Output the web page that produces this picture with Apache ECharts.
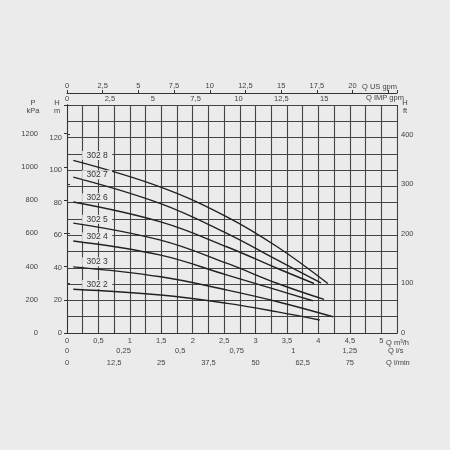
<!DOCTYPE html>
<html><head><meta charset="utf-8">
<script src="https://cdn.jsdelivr.net/npm/echarts@6/dist/echarts.min.js"></script>
<style>html,body{margin:0;background:#ebebeb}#c{width:450px;height:450px}</style>
</head><body><div id="c"></div>
<script>
const models = ['302 8','302 7','302 6','302 5','302 4','302 3','302 2'];
const flowQ = [
 [0.1,1.49,2.55,3.35,4.15],
 [0.1,1.49,2.55,3.35,4.04],
 [0.1,1.49,2.55,3.35,3.93],
 [0.1,1.49,2.55,3.35,4.09],
 [0.1,1.49,2.55,3.35,3.91],
 [0.1,1.49,2.55,3.35,4.23],
 [0.1,1.49,2.55,3.35,4.02]
];
const headH = [
 [106,89.6,71.2,52.8,30.4],
 [95.7,79.4,61,44.7,30.8],
 [80.4,68.2,52.8,39.6,30.4],
 [67.5,57,42.7,30.4,20.6],
 [56.5,47.8,35.5,26.3,19.8],
 [40.6,34.5,26.3,19.2,10],
 [26.9,23.3,18.2,13,8]
];
const labelH = [109,97.2,83,69.8,59,43.7,29.8];
const labelQ = 0.48;
const axisTitles = ['Q US gpm','Q IMP gpm','Q m³/h','Q l/s','Q l/min','P\nkPa','H\nm','H\nft'];

const QMAX = 5.25, HMAX = 140;
const txt = {color:'#444', fontSize:7.5, fontFamily:'Liberation Sans'};
const lim = (max) => v => v > max + 1e-9 ? '' : String(+v.toFixed(3)).replace('.', ',');
const gt = (t,x,y,align) => ({type:'text',left:undefined,x,y,style:{text:t,fill:'#444',font:'7.5px Liberation Sans',align:align||'left',verticalAlign:'middle',lineHeight:8}});

const chart = echarts.init(document.getElementById('c'));
chart.setOption({
  backgroundColor:'#ebebeb',
  animation:false,
  grid:{left:67,right:53,top:105,bottom:117},
  graphic:[
    gt(axisTitles[0],362,87), gt(axisTitles[1],366,98), gt(axisTitles[2],386,343),
    gt(axisTitles[3],388,351), gt(axisTitles[4],386,363),
    gt(axisTitles[5],33,107,'center'), gt(axisTitles[6],57,107,'center'), gt(axisTitles[7],405,107,'center')
  ],
  xAxis:[
    {type:'value',position:'bottom',min:0,max:QMAX,interval:0.25,
     axisLine:{lineStyle:{color:'#333'}},axisTick:{show:false},
     splitLine:{lineStyle:{color:'#444',width:1.1}},
     axisLabel:{...txt,margin:4,formatter:v=>(Math.abs(v*2-Math.round(v*2))<1e-6 && v<=5)?String(v).replace('.',','):''}},
    {type:'value',position:'bottom',offset:12,min:0,max:QMAX/3.6,interval:0.25,
     axisLine:{show:false},axisTick:{show:false},splitLine:{show:false},
     axisLabel:{...txt,margin:2,formatter:lim(1.25)}},
    {type:'value',position:'bottom',offset:23,min:0,max:QMAX*1000/60,interval:12.5,
     axisLine:{show:true,lineStyle:{color:'#333'}},axisTick:{show:true,inside:true,length:3},splitLine:{show:false},
     axisLabel:{...txt,margin:3,formatter:lim(75)}},
    {type:'value',position:'top',offset:12,min:0,max:QMAX*4.4029,interval:2.5,
     axisLine:{show:true,lineStyle:{color:'#333'}},axisTick:{show:true,length:3},splitLine:{show:false},
     axisLabel:{...txt,margin:3,formatter:lim(20)}},
    {type:'value',position:'top',offset:0,min:0,max:QMAX*3.6662,interval:2.5,
     axisLine:{show:false},axisTick:{show:false},splitLine:{show:false},
     axisLabel:{...txt,margin:2,formatter:lim(15)}}
  ],
  yAxis:[
    {type:'value',position:'left',min:0,max:HMAX,interval:10,
     axisLine:{show:true,lineStyle:{color:'#333'}},axisTick:{show:false},
     splitLine:{lineStyle:{color:'#444',width:1.1}},
     axisLabel:{...txt,margin:5,formatter:v=>(v%20===0&&v<=120)?String(v):''}},
    {type:'value',position:'left',offset:25,min:0,max:HMAX*9.80665,interval:200,
     axisLine:{show:true,lineStyle:{color:'#333'}},axisTick:{show:true,length:3},splitLine:{show:false},
     axisLabel:{...txt,margin:4,formatter:lim(1200)}},
    {type:'value',position:'right',min:0,max:HMAX*3.28084,interval:100,
     axisLine:{show:true,lineStyle:{color:'#333'}},axisTick:{show:true,length:3},splitLine:{show:false},
     axisLabel:{...txt,margin:4,formatter:lim(400)}}
  ],
  series: models.map((m,i)=>({
    type:'line',name:m,smooth:0.4,symbol:'none',xAxisIndex:0,yAxisIndex:0,
    lineStyle:{color:'#222',width:1.4},
    data: flowQ[i].map((q,j)=>[q,headH[i][j]]),
    markPoint:{symbol:'rect',symbolSize:[30,9],itemStyle:{color:'#ebebeb'},
      label:{show:true,position:'inside',...txt,fontSize:8.5,color:'#333',formatter:m},
      data:[{coord:[labelQ,labelH[i]]}]}
  }))
});
</script></body></html>
